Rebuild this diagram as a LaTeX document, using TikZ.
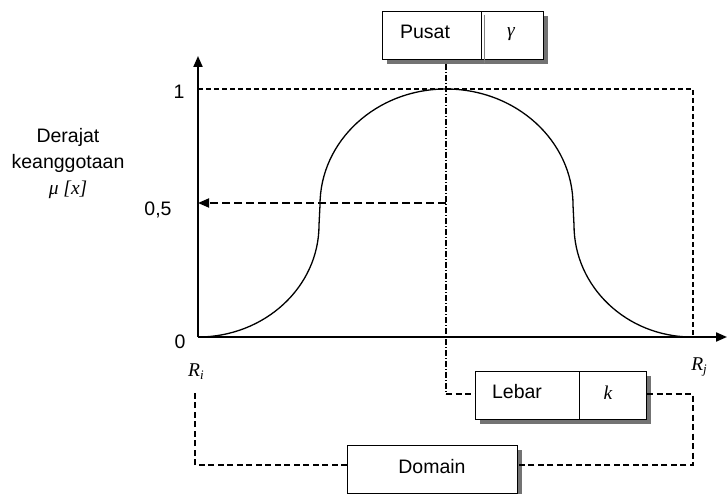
\documentclass[tikz,border=0pt]{standalone}
\usepackage{fontspec}
\setmainfont{Liberation Sans}
\newfontfamily\tms{Liberation Serif}
\usetikzlibrary{arrows.meta,shadows}
\begin{document}
\begin{tikzpicture}[x=1pt,y=-1pt,
  every node/.style={font=\fontsize{19.5}{23}\selectfont, inner sep=0pt},
  box/.style={draw, line width=1.2pt, fill=white, rectangle, minimum height=48pt, anchor=north west,
    drop shadow={shadow xshift=4.5pt, shadow yshift=-4.5pt, fill=black!55, opacity=1}},
  axis/.style={line width=2pt, -{Triangle[length=11pt,width=9pt]}},
  curve/.style={line width=1.3pt},
  guide/.style={line width=1.2pt, dash pattern=on 5pt off 3pt},
  conn/.style={line width=1.2pt, dash pattern=on 6pt off 3.5pt},
  center/.style={line width=1.2pt, dash pattern=on 6pt off 2pt on 1pt off 2pt},
  half/.style={line width=1.8pt, dash pattern=on 8pt off 4pt, -{Triangle[length=11pt,width=9pt]}},
  it/.style={font=\fontsize{19.5}{23}\selectfont\tms\itshape}]
\path[use as bounding box] (0,0) rectangle (727,494);

% boxes
\node[box, minimum width=99pt] (pusatL) at (382,11) {};
\node[box, minimum width=62pt] (pusatR) at (481,11) {};
\draw[gray, line width=0.8pt] (484,15) -- (484,63);
\node (tPusat) at (425,32) {Pusat};
\node[it] (tGamma) at (511,34) {γ};

\node[box, minimum width=104pt] (lebarL) at (475,371) {};
\node[box, minimum width=67pt] (lebarR) at (579,371) {};
\node (tLebar) at (517,392) {Lebar};
\node[it] (tK) at (608,393) {k};

\node[box, minimum width=170pt] (domain) at (347,445) {};
\node (tDomain) at (432,467) {Domain};

% axes
\coordinate (O) at (198,337);
\coordinate (Ytip) at (198,56);
\coordinate (Xtip) at (727,337);
\draw[axis] (O) -- (Ytip);
\draw[axis] (O) -- (Xtip);

% guides
\coordinate (topL) at (198,89);
\coordinate (topR) at (693,89);
\coordinate (axR) at (693,337);
\draw[guide] (topL) -- (topR) -- (axR);

\coordinate (pc) at (446,64);
\coordinate (pcb) at (446,394);
\draw[center] (pc) -- (pcb);
\draw[conn] (pcb) -- (lebarL.west |- pcb);

\coordinate (mid) at (446,203);
\coordinate (midL) at (198,203);
\draw[half] (mid) -- (midL);

% membership curve
\draw[curve] (198,337) .. controls (264.8,337) and (319,286.9) .. (319,225)
  -- (320,205) .. controls (320,140.9) and (376.4,89) .. (446,89)
  .. controls (516.1,89) and (573,140.9) .. (573,205)
  -- (574,225) .. controls (574,286.9) and (626.8,337) .. (692,337);

% bottom connectors
\coordinate (rj1) at (693,394);
\coordinate (rj2) at (693,465);
\coordinate (dE) at (517,465);
\coordinate (dW) at (347,465);
\coordinate (ri1) at (195,465);
\coordinate (ri2) at (195,390);
\draw[conn] (lebarR.east |- rj1) -- (rj1) -- (rj2) -- (dE);
\draw[conn] (dW) -- (ri1) -- (ri2);

% labels
\node (l1) at (179,92) {1};
\node (l05) at (158,210) {0,5};
\node (l0) at (180,342) {0};
\node (lDer) at (68,137) {Derajat};
\node (lKea) at (68,163) {keanggotaan};
\node[it] (lMu) at (68,190) {μ [x]};
\node[it] (lRi) at (196,372) {R\raisebox{-0.35ex}{\fontsize{13}{13}\selectfont i}};
\node[it] (lRj) at (699,367) {R\raisebox{-0.35ex}{\fontsize{13}{13}\selectfont j}};
\end{tikzpicture}
\end{document}
